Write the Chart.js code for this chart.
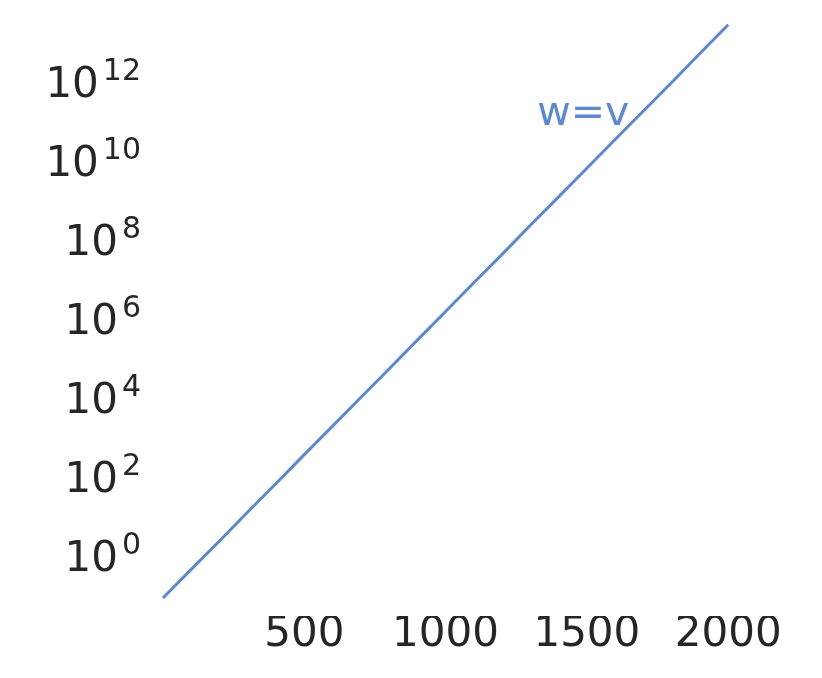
<!DOCTYPE html>
<html>
<head>
<meta charset="utf-8">
<script src="https://cdn.jsdelivr.net/npm/chart.js@4/dist/chart.umd.min.js"></script>
<style>
  html, body { margin: 0; padding: 0; background: #fff; }
  #wrap { width: 822px; height: 678px; position: relative; }
</style>
</head>
<body>
<div id="wrap"><canvas id="c" width="822" height="678"></canvas></div>
<script>
// ---- data ----
const xValues = [0, 100, 200, 300, 400, 500, 600, 700, 800, 900, 1000,
                 1100, 1200, 1300, 1400, 1500, 1600, 1700, 1800, 1900, 2000];
const wValues = [0.086, 0.46, 2.4, 13, 69, 370, 1960, 1.04e4, 5.5e4, 2.95e5, 1.57e6,
                 8.4e6, 4.4e7, 2.4e8, 1.26e9, 6.7e9, 3.6e10, 1.9e11, 1.0e12, 5.4e12, 2.9e13];
const seriesLabel = 'w=v';
const xTickValues = [500, 1000, 1500, 2000];
const yTickValues = [1, 1e2, 1e4, 1e6, 1e8, 1e10, 1e12];
const yTickBase = '10';
const yTickExponents = ['0', '2', '4', '6', '8', '10', '12'];
const labelAnchorIndex = 17;

const lineColor = '#5a87d8';
const textColor = '#262626';
const fontFamily = "'DejaVu Sans', sans-serif";

// y tick labels drawn as "10" with a raised exponent, positioned by the library's y scale
const yTickLabelPlugin = {
  id: 'yTickLabels',
  afterDraw(chart) {
    const scale = chart.scales.y;
    const ctx = chart.ctx;
    ctx.save();
    ctx.fillStyle = textColor;
    ctx.textAlign = 'right';
    ctx.textBaseline = 'alphabetic';
    const right = scale.right - 7;
    yTickValues.forEach((v, i) => {
      const py = scale.getPixelForValue(v);
      const base = py + 15;
      ctx.font = '30px ' + fontFamily;
      const ew = ctx.measureText(yTickExponents[i]).width;
      ctx.fillText(yTickExponents[i], right, base - 17.5);
      ctx.font = '42px ' + fontFamily;
      ctx.fillText(yTickBase, right - ew - 4, base);
    });
    ctx.restore();
  }
};

const lineLabelPlugin = {
  id: 'lineLabel',
  afterDatasetsDraw(chart) {
    const meta = chart.getDatasetMeta(0);
    const pt = meta.data[labelAnchorIndex];
    const ctx = chart.ctx;
    ctx.save();
    ctx.font = '41px ' + fontFamily;
    ctx.fillStyle = lineColor;
    ctx.textAlign = 'right';
    ctx.textBaseline = 'alphabetic';
    ctx.fillText(seriesLabel, pt.x - 14, pt.y + 14);
    ctx.restore();
  }
};

new Chart(document.getElementById('c'), {
  type: 'line',
  data: {
    datasets: [{
      label: seriesLabel,
      data: xValues.map((x, i) => ({ x: x, y: wValues[i] })),
      borderColor: lineColor,
      borderWidth: 3,
      pointRadius: 0,
      tension: 0,
      fill: false
    }]
  },
  options: {
    responsive: false,
    animation: false,
    layout: { padding: { top: 0, right: 67, left: 0, bottom: 0 } },
    plugins: { legend: { display: false }, tooltip: { enabled: false } },
    scales: {
      x: {
        type: 'linear',
        min: -53,
        max: 2095,
        border: { display: false },
        grid: { display: false, drawTicks: false },
        afterBuildTicks(scale) { scale.ticks = xTickValues.map(v => ({ value: v })); },
        afterFit(scale) {
          scale.height = 62;
          scale.paddingLeft = 0; scale.paddingRight = 0;
          scale.paddingTop = 0; scale.paddingBottom = 0;
        },
        ticks: {
          color: textColor,
          font: { family: fontFamily, size: 42 },
          padding: -6,
          maxRotation: 0,
          autoSkip: false,
          callback: (v) => String(v)
        }
      },
      y: {
        type: 'logarithmic',
        min: Math.pow(10, -1.52),
        max: Math.pow(10, 14.09),
        border: { display: false },
        grid: { display: false, drawTicks: false },
        afterBuildTicks(scale) { scale.ticks = yTickValues.map(v => ({ value: v })); },
        afterFit(scale) {
          scale.width = 148;
          scale.paddingLeft = 0; scale.paddingRight = 0;
          scale.paddingTop = 0; scale.paddingBottom = 0;
        },
        ticks: { display: false }
      }
    }
  },
  plugins: [lineLabelPlugin, yTickLabelPlugin]
});
</script>
</body>
</html>
